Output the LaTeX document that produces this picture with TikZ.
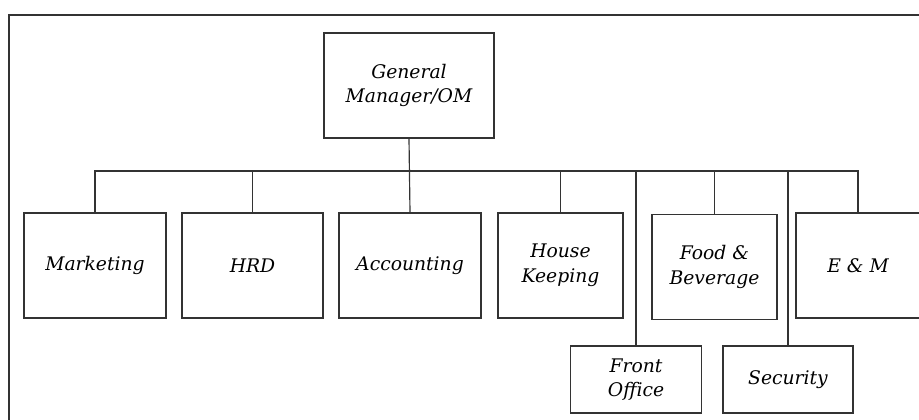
\documentclass[tikz,border=0pt]{standalone}
\usepackage{fontspec}
\setmainfont{DejaVu Serif}
\usepackage{tikz}
\definecolor{ink}{HTML}{333333}

\begin{document}
\begin{tikzpicture}[
        x=0.03cm, y=-0.03cm,
        unit/.style={draw=ink, line width=1pt, align=center, inner sep=1pt,
                     font=\fontsize{16}{21}\selectfont\itshape},
        unitbig/.style={unit, minimum height=3.15cm},
        unitlow/.style={unit, minimum height=2.01cm},
        link/.style={draw=ink, line width=1pt}
    ]
    \useasboundingbox (0,0) rectangle (919,420);
    \clip (0,0) rectangle (919,420);

    % Outer frame
    \draw[ink, line width=1.3pt] (9,15) rectangle (940,440);

    % ---- Top ----
    \node[unitbig, minimum width=5.1cm] (gm) at (409, 85.5) {General\\Manager/OM};

    % ---- Departments, upper row ----
    \node[unitbig, minimum width=4.26cm] (mkt) at (95, 265.5)  {Marketing};
    \node[unitbig, minimum width=4.23cm] (hrd) at (252.5, 265.5) {HRD};
    \node[unitbig, minimum width=4.26cm] (acc) at (410, 265.5) {Accounting};
    \node[unitbig, minimum width=3.75cm] (hk)  at (560.5, 265.5) {House\\Keeping};
    \node[unitbig, minimum width=3.75cm] (fb)  at (714.5, 267) {Food \&\\Beverage};
    \node[unitbig, minimum width=3.72cm] (em)  at (858, 265.5) {E \& M};

    % ---- Departments, lower row ----
    \node[unitlow, minimum width=3.93cm] (fo)  at (636, 379.5) {Front\\Office};
    \node[unitlow, minimum width=3.9cm]  (sec) at (788, 379.5) {Security};

    % ---- Connectors ----
    \coordinate (bus) at (409, 171);
    \draw[link] (gm.south) -- (acc.north);
    \draw[link] (mkt.north) -- (mkt.north |- bus) -- (em.north |- bus) -- (em.north);
    \foreach \d in {hrd, hk, fo, fb, sec}
        \draw[link] (\d.north) -- (\d.north |- bus);
\end{tikzpicture}
\end{document}
